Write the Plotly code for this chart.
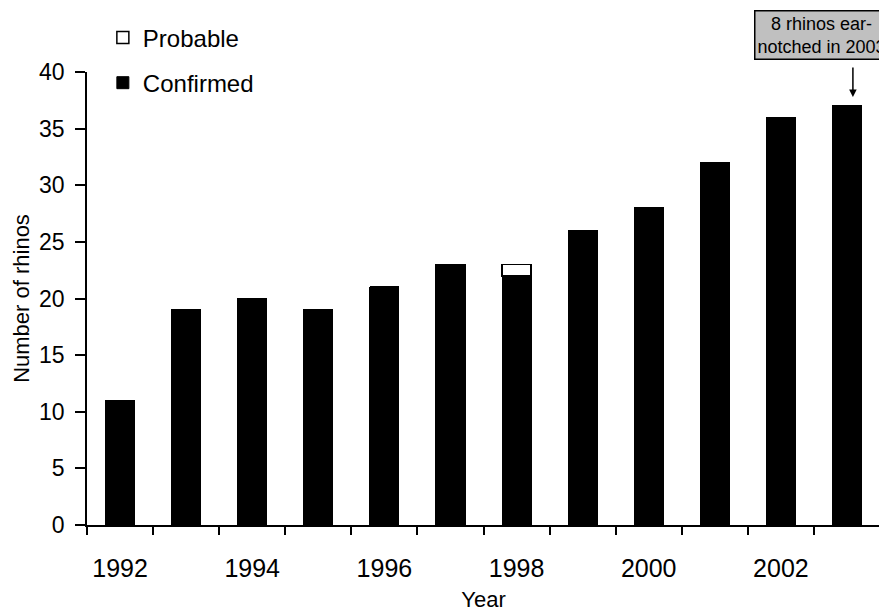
import plotly.graph_objects as go

years = [1992, 1993, 1994, 1995, 1996, 1997, 1998, 1999, 2000, 2001, 2002, 2003]
confirmed = [11, 19, 20, 19, 21, 23, 22, 26, 28, 32, 36, 37]
probable = [0, 0, 0, 0, 0, 0, 1, 0, 0, 0, 0, 0]
year_ticks = [1992, 1994, 1996, 1998, 2000, 2002]
y_ticks = [0, 5, 10, 15, 20, 25, 30, 35, 40]
boundaries = [y - 0.5 for y in years] + [years[-1] + 0.5]

FONT = "Arial, Liberation Sans, sans-serif"

fig = go.Figure()
fig.add_trace(go.Bar(
    x=years, y=confirmed, name="Confirmed", width=0.44,
    marker=dict(color="black", line=dict(color="black", width=1)),
    legendgroup="c", legendrank=2,
))
fig.add_trace(go.Bar(
    x=years, y=probable, name="Probable", width=0.44,
    marker=dict(color="white", line=dict(color="black", width=1.5)),
    legendgroup="p", legendrank=1,
))

fig.update_layout(
    width=879, height=604,
    margin=dict(l=79, r=7, t=64, b=87, autoexpand=False),
    barmode="stack",
    plot_bgcolor="white", paper_bgcolor="white",
    font=dict(family=FONT, size=22, color="black"),
    legend=dict(
        x=0.02, xanchor="left", y=1.125, yanchor="top",
        traceorder="grouped", tracegroupgap=11,
        font=dict(size=24), bgcolor="rgba(0,0,0,0)",
    ),
    xaxis=dict(
        range=[1991.5, 2003.5], tickmode="array", tickvals=year_ticks,
        ticktext=[str(y) for y in year_ticks], ticks="", showgrid=False,
        zeroline=False, showline=True, linecolor="black", linewidth=1.5,
        tickfont=dict(size=25), ticklabelstandoff=20, automargin=False,
        minor=dict(tickmode="array", tickvals=boundaries, ticks="outside",
                   ticklen=8, tickwidth=1.5, tickcolor="black", showgrid=False),
        title=dict(text="Year", font=dict(size=22), standoff=14),
    ),
    yaxis=dict(
        range=[0, 40], tickmode="array", tickvals=y_ticks, ticks="outside",
        ticklen=10, tickwidth=1.5, tickcolor="black", showgrid=False,
        zeroline=False, showline=True, linecolor="black", linewidth=1.5,
        tickfont=dict(size=23), ticklabelstandoff=6, automargin=False,
        title=dict(text="Number of rhinos", font=dict(size=22), standoff=3),
    ),
    annotations=[
        dict(
            xref="paper", yref="paper", x=(754 - 87) / 793, y=(525 - 10) / 453,
            xanchor="left", yanchor="top", showarrow=False,
            text="8 rhinos ear-<br>notched in 2003", align="center",
            font=dict(size=18, family=FONT, color="black"),
            bgcolor="#c0c0c0", bordercolor="black", borderwidth=1.5, borderpad=2,
        ),
        dict(
            xref="x", yref="y", x=2003.09, y=37.8, text="",
            showarrow=True, ax=0, ay=-31, arrowhead=2, arrowsize=1,
            arrowwidth=1.5, arrowcolor="black",
        ),
    ],
)

fig.write_html("out.html")
